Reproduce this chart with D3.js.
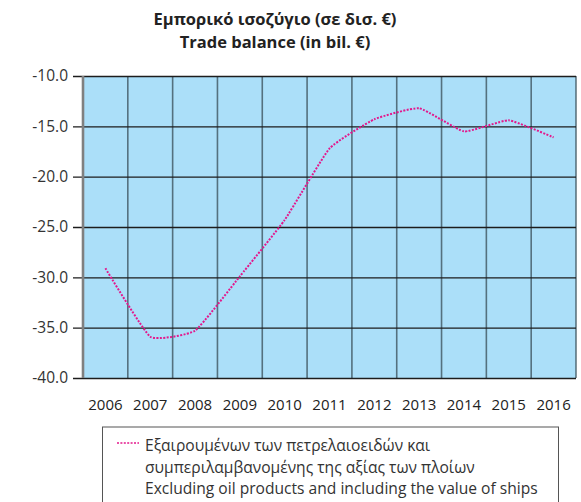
<!DOCTYPE html>
<html>
<head>
<meta charset="utf-8">
<script src="https://cdn.jsdelivr.net/npm/d3@7/dist/d3.min.js"></script>
<style>
  html, body { margin: 0; padding: 0; background: #fff; }
  svg { display: block; font-family: "Open Sans", "Noto Sans", sans-serif; }
</style>
</head>
<body>
<svg id="chart" width="581" height="502"></svg>
<script>
// Trade balance, excluding oil products and including ships (bn €)
const years = ["2006","2007","2008","2009","2010","2011","2012","2013","2014","2015","2016"];
const balance = [-29.1, -35.9, -35.3, -29.9, -24.3, -17.2, -14.3, -13.2, -15.5, -14.4, -16.1];
const yTicks = [-40, -35, -30, -25, -20, -15, -10];
const titleLines = ["Εμπορικό ισοζύγιο (σε δισ. €)", "Trade balance (in bil. €)"];
const legendLines = [
  "Εξαιρουμένων των πετρελαιοειδών και",
  "συμπεριλαμβανομένης της αξίας των πλοίων",
  "Excluding oil products and including the value of ships"
];

(function () {
  const svg = d3.select("#chart");
  const plotL = 83, plotR = 576, plotT = 76, plotB = 378;

  const x = d3.scaleBand().domain(years).range([plotL, plotR]).padding(0);
  const y = d3.scaleLinear().domain([-40, -10]).range([plotB, plotT]);

  // title
  svg.append("g").selectAll("text").data(titleLines).join("text")
    .attr("x", 275).attr("y", (d, i) => 25 + i * 23)
    .attr("text-anchor", "middle")
    .attr("font-size", 16.5).attr("font-weight", "bold").attr("fill", "#222")
    .text(d => d);

  // plot background
  svg.append("rect")
    .attr("x", plotL).attr("y", plotT)
    .attr("width", plotR - plotL).attr("height", plotB - plotT)
    .attr("fill", "#abdff9");

  // vertical grid lines at category boundaries
  const bounds = years.map(d => x(d)).concat([x(years[years.length - 1]) + x.bandwidth()]);
  svg.append("g").selectAll("line").data(bounds.slice(1)).join("line")
    .attr("x1", d => d).attr("x2", d => d)
    .attr("y1", plotT).attr("y2", plotB)
    .attr("stroke", "#3f5560").attr("stroke-opacity", 0.8).attr("stroke-width", 1.6);

  // y axis with ticks extended into horizontal grid lines
  const yAxis = d3.axisLeft(y)
    .tickValues(yTicks)
    .tickSize(-(plotR - plotL))
    .tickPadding(14)
    .tickFormat(d => d.toFixed(1));
  const gy = svg.append("g").attr("transform", `translate(${plotL},0)`).call(yAxis);
  gy.select(".domain").remove();
  gy.selectAll(".tick line")
    .attr("x1", -10)
    .attr("stroke", "#1d1d1d").attr("stroke-width", 1.3);
  gy.selectAll(".tick text")
    .attr("x", -15)
    .attr("font-size", 15.5).attr("fill", "#333")
    .attr("font-family", "'Open Sans', sans-serif");

  // left axis line
  svg.append("line")
    .attr("x1", plotL).attr("x2", plotL).attr("y1", plotT).attr("y2", plotB)
    .attr("stroke", "#808080").attr("stroke-width", 2.6);

  // x axis labels
  const xAxis = d3.axisBottom(x).tickSize(0).tickPadding(21);
  const gx = svg.append("g").attr("transform", `translate(0,${plotB})`).call(xAxis);
  gx.select(".domain").remove();
  gx.selectAll(".tick text")
    .attr("font-size", 15).attr("fill", "#222")
    .attr("font-family", "'Open Sans', sans-serif");

  // series line
  const line = d3.line()
    .x((d, i) => x(years[i]) + x.bandwidth() / 2)
    .y(d => y(d))
    .curve(d3.curveCardinal.tension(0.6));
  svg.append("path")
    .datum(balance)
    .attr("d", line)
    .attr("fill", "none")
    .attr("stroke", "#e3188c")
    .attr("stroke-width", 2)
    .attr("stroke-dasharray", "2,1.4");

  // legend
  const lg = svg.append("g");
  lg.append("rect")
    .attr("x", 102.5).attr("y", 427).attr("width", 456).attr("height", 90)
    .attr("fill", "#fff").attr("stroke", "#555").attr("stroke-width", 1);
  lg.append("line")
    .attr("x1", 117).attr("x2", 139).attr("y1", 443).attr("y2", 443)
    .attr("stroke", "#e3188c").attr("stroke-width", 1.6).attr("stroke-dasharray", "2,1.4");
  lg.selectAll("text").data(legendLines).join("text")
    .attr("x", 145).attr("y", (d, i) => 451 + i * 21.5)
    .attr("font-size", 15.6).attr("fill", "#333")
    .text(d => d);
})();
</script>
</body>
</html>
